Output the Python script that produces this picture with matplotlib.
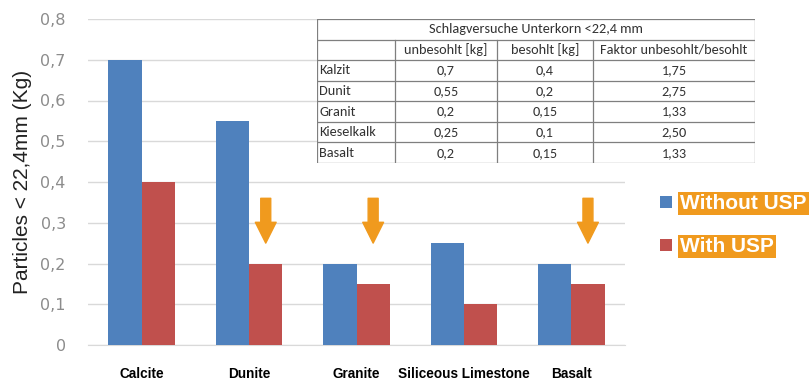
import numpy as np
import matplotlib.pyplot as plt

# =========================
# DATA
# =========================
categories = ["Calcite", "Dunite", "Granite", "Siliceous Limestone", "Basalt"]
without_usp = [0.7, 0.55, 0.2, 0.25, 0.2]
with_usp = [0.4, 0.2, 0.15, 0.1, 0.15]
arrow_groups = [1, 2, 4]          # groups marked with a downward arrow
arrow_from, arrow_to = 0.36, 0.25

yticks = [0, 0.1, 0.2, 0.3, 0.4, 0.5, 0.6, 0.7, 0.8]
ytick_labels = ["0", "0,1", "0,2", "0,3", "0,4", "0,5", "0,6", "0,7", "0,8"]

table_title = "Schlagversuche Unterkorn <22,4 mm"
table_cols = ["", "unbesohlt [kg]", "besohlt [kg]", "Faktor unbesohlt/besohlt"]
table_rows = ["Kalzit", "Dunit", "Granit", "Kieselkalk", "Basalt"]
table_unbesohlt = ["0,7", "0,55", "0,2", "0,25", "0,2"]
table_besohlt = ["0,4", "0,2", "0,15", "0,1", "0,15"]
table_faktor = ["1,75", "2,75", "1,33", "2,50", "1,33"]

blue = "#4F81BD"
red = "#C0504D"
orange = "#F09A1E"

# =========================
# FIGURE
# =========================
fig = plt.figure(figsize=(8.1, 3.81), dpi=100)
ax = fig.add_axes([88 / 810, 1 - 345 / 381, 537 / 810, 326 / 381])

x = np.arange(len(categories))
w = 0.31
b1 = ax.bar(x - w / 2, without_usp, w, color=blue, label="Without USP", zorder=3)
b2 = ax.bar(x + w / 2, with_usp, w, color=red, label="With USP", zorder=3)

ax.set_xlim(-0.5, len(categories) - 0.5)
ax.set_ylim(0, 0.8)
ax.set_yticks(yticks)
ax.set_yticklabels(ytick_labels, color="#8C8C8C", fontsize=11.5)
ax.set_xticks(x)
ax.set_xticklabels(categories, fontsize=9.8, fontweight="bold",
                   family=["Liberation Sans", "DejaVu Sans"])
ax.tick_params(length=0)
ax.tick_params(axis="x", pad=16)
ax.tick_params(axis="y", pad=16)
ax.grid(axis="y", color="#D9D9D9", lw=1, zorder=0)
for s in ["top", "right", "left"]:
    ax.spines[s].set_visible(False)
ax.spines["bottom"].set_color("#D9D9D9")
ax.set_ylabel("Particles < 22,4mm (Kg)", fontsize=15, color="#222222", labelpad=6,
              family=["Liberation Sans", "DejaVu Sans"])

# arrows above the "with USP" bars
for g in arrow_groups:
    ax.annotate("", xy=(g + w / 2, arrow_to), xytext=(g + w / 2, arrow_from),
                arrowprops=dict(arrowstyle="simple,head_length=0.75,head_width=0.75,tail_width=0.36",
                                color=orange, mutation_scale=20, shrinkA=0, shrinkB=0),
                zorder=4)

# legend with orange text boxes
leg = fig.legend([b1, b2], ["Without USP", "With USP"], loc="upper left",
                 bbox_to_anchor=(652 / 810, 1 - 186 / 381), frameon=False,
                 handlelength=0.55, handleheight=0.55, handletextpad=0.4,
                 labelspacing=1.15, borderaxespad=0,
                 prop=dict(family=["Liberation Sans", "DejaVu Sans"], weight="bold", size=15))
for t in leg.get_texts():
    t.set_color("white")
    t.set_bbox(dict(facecolor=orange, edgecolor="none", pad=1.5))

# =========================
# TABLE (drawn by hand in an overlay axes)
# =========================
tx = fig.add_axes([317 / 810, 1 - 163 / 381, 438 / 810, 144 / 381])
tx.set_xlim(0, 438)
tx.set_ylim(7, 0)
tx.axis("off")
tx.add_patch(plt.Rectangle((0, 0), 438, 7, facecolor="white", edgecolor="none", zorder=0))
col_edges = [0, 78, 180, 276, 438]
lc = "#7F7F7F"
for r in range(8):
    tx.plot([0, 438], [r, r], color=lc, lw=0.9)
for i, cx in enumerate(col_edges):
    y0 = 0 if i in (0, len(col_edges) - 1) else 1
    tx.plot([cx, cx], [y0, 7], color=lc, lw=0.9)

tfont = dict(fontsize=10.3, color="#333333", family=["Carlito", "Lato", "DejaVu Sans"], va="center")
tx.text(219, 0.5, table_title, ha="center", **tfont)
for j in range(1, 4):
    tx.text((col_edges[j] + col_edges[j + 1]) / 2, 1.5, table_cols[j], ha="center", **tfont)
for i, name in enumerate(table_rows):
    yy = 2.5 + i
    tx.text(2, yy, name, ha="left", **tfont)
    for j, vals in enumerate([table_unbesohlt, table_besohlt, table_faktor], start=1):
        tx.text((col_edges[j] + col_edges[j + 1]) / 2, yy, vals[i], ha="center", **tfont)

fig.savefig("out.png", dpi=100)
